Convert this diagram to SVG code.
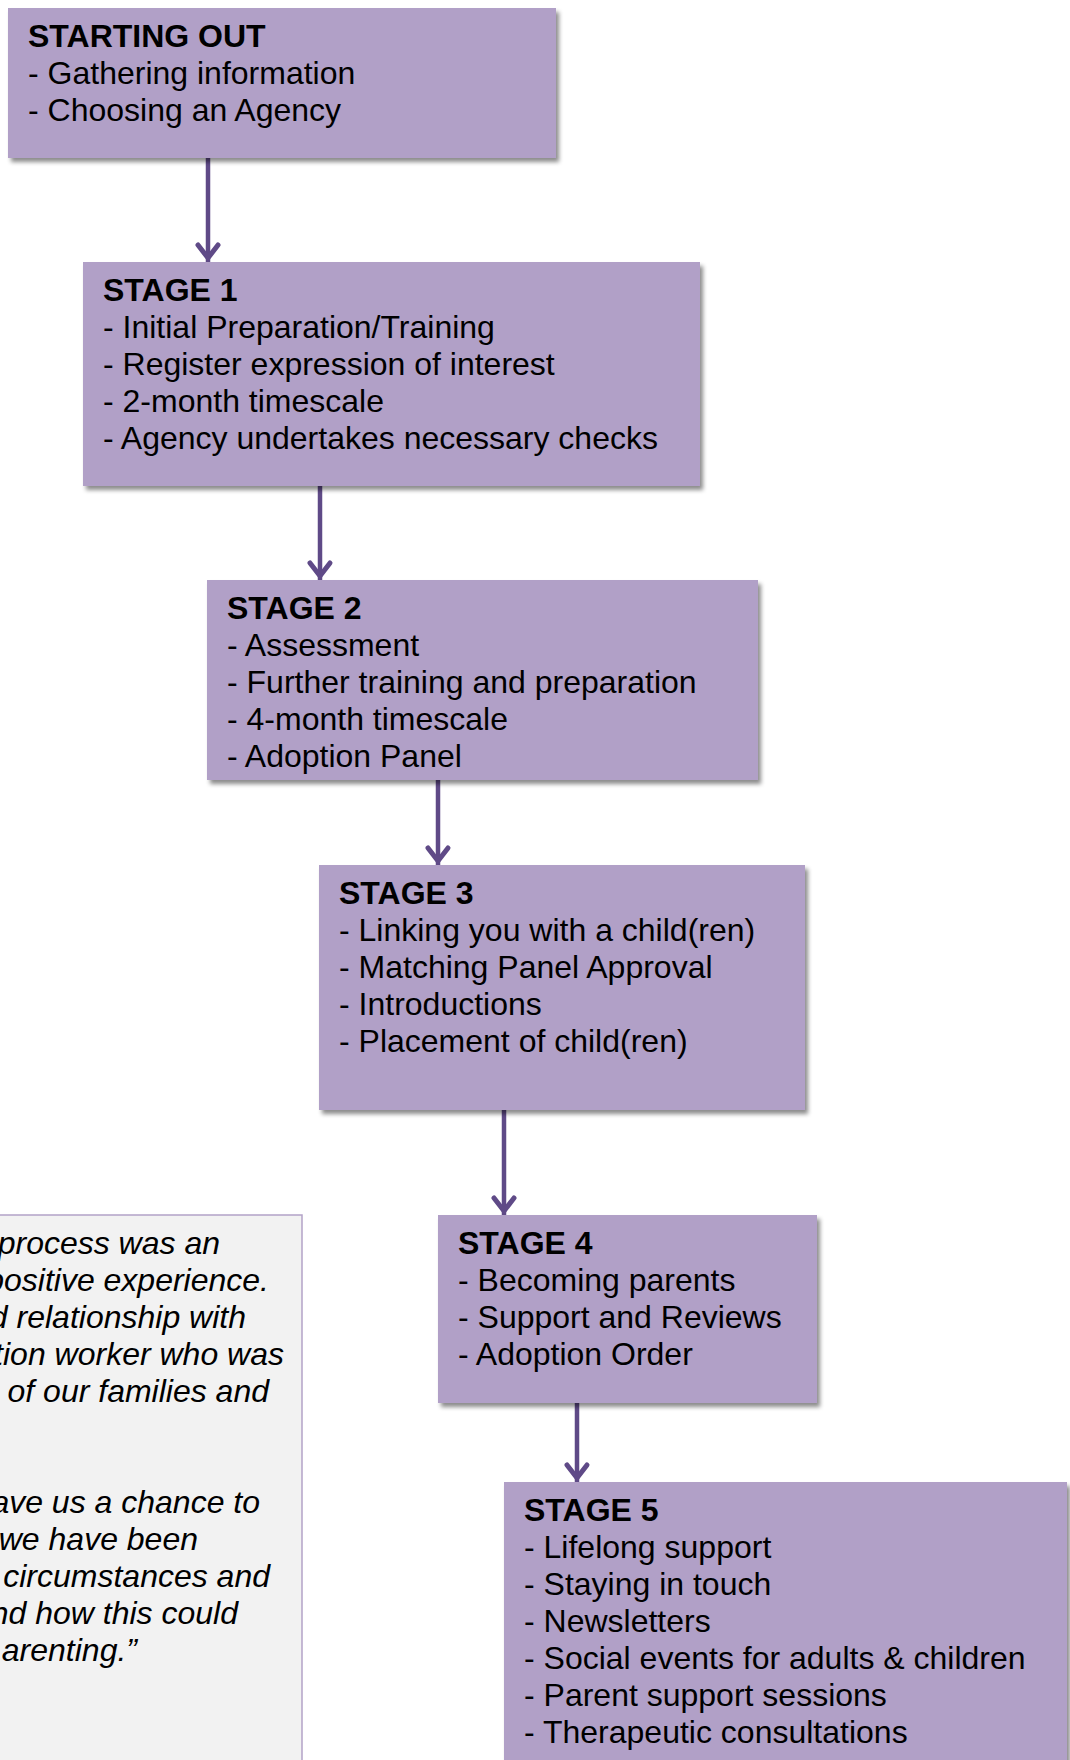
<svg xmlns="http://www.w3.org/2000/svg" width="1070" height="1760" viewBox="0 0 1070 1760">
<style>
.box{fill:#b1a0c7;filter:url(#sh)}
.t{font-family:"Liberation Sans",Arial,sans-serif;font-size:32px;fill:#000}
.h{font-weight:bold}
.q{font-family:"Liberation Sans",Arial,sans-serif;font-size:32px;font-style:italic;fill:#000;text-anchor:end}
.c{stroke:#5f4a87;stroke-width:4.5;fill:none;marker-end:url(#ah)}
</style>
<defs>
<filter id="sh" x="-5%" y="-5%" width="115%" height="120%">
<feDropShadow dx="3" dy="4" stdDeviation="2.2" flood-color="#000" flood-opacity="0.45"/>
</filter>
<marker id="ah" markerUnits="userSpaceOnUse" viewBox="-25 -15 30 30" markerWidth="30" markerHeight="30" refX="0" refY="0" orient="auto">
<path d="M-17,-10 L-4,0 L-17,10" fill="none" stroke="#5f4a87" stroke-width="5" stroke-linecap="round"/>
</marker>
</defs>
<rect width="1070" height="1760" fill="#fff"/>

<g id="quote">
<rect x="-10" y="1215" width="312" height="560" fill="#f2f2f2" stroke="#b3a2c7" stroke-width="1.5"/>
<text class="q" x="220" y="1254">process was an</text>
<text class="q" x="269" y="1291">positive experience.</text>
<text class="q" x="246" y="1328">d relationship with</text>
<text class="q" x="284" y="1365">tion worker who was</text>
<text class="q" x="269" y="1402">of our families and</text>
<text class="q" x="260" y="1513">ave us a chance to</text>
<text class="q" x="198" y="1550">we have been</text>
<text class="q" x="270" y="1587">circumstances and</text>
<text class="q" x="238" y="1624">nd how this could</text>
<text class="q" x="137" y="1661">arenting.”</text>
</g>

<g id="connectors">
<path class="c" d="M208,158 V262"/>
<path class="c" d="M320,486 V580"/>
<path class="c" d="M438,780 V865"/>
<path class="c" d="M504,1110 V1215"/>
<path class="c" d="M577,1403 V1482"/>
</g>

<g id="starting-out">
<rect class="box" x="8" y="8" width="548" height="150"/>
<text class="t h" x="28" y="47">STARTING OUT</text>
<text class="t" x="28" y="84">- Gathering information</text>
<text class="t" x="28" y="121">- Choosing an Agency</text>
</g>

<g id="stage1">
<rect class="box" x="83" y="262" width="617" height="224"/>
<text class="t h" x="103" y="301">STAGE 1</text>
<text class="t" x="103" y="338">- Initial Preparation/Training</text>
<text class="t" x="103" y="375">- Register expression of interest</text>
<text class="t" x="103" y="412">- 2-month timescale</text>
<text class="t" x="103" y="449">- Agency undertakes necessary checks</text>
</g>

<g id="stage2">
<rect class="box" x="207" y="580" width="551" height="200"/>
<text class="t h" x="227" y="619">STAGE 2</text>
<text class="t" x="227" y="656">- Assessment</text>
<text class="t" x="227" y="693">- Further training and preparation</text>
<text class="t" x="227" y="730">- 4-month timescale</text>
<text class="t" x="227" y="767">- Adoption Panel</text>
</g>

<g id="stage3">
<rect class="box" x="319" y="865" width="486" height="245"/>
<text class="t h" x="339" y="904">STAGE 3</text>
<text class="t" x="339" y="941">- Linking you with a child(ren)</text>
<text class="t" x="339" y="978">- Matching Panel Approval</text>
<text class="t" x="339" y="1015">- Introductions</text>
<text class="t" x="339" y="1052">- Placement of child(ren)</text>
</g>

<g id="stage4">
<rect class="box" x="438" y="1215" width="379" height="188"/>
<text class="t h" x="458" y="1254">STAGE 4</text>
<text class="t" x="458" y="1291">- Becoming parents</text>
<text class="t" x="458" y="1328">- Support and Reviews</text>
<text class="t" x="458" y="1365">- Adoption Order</text>
</g>

<g id="stage5">
<rect class="box" x="504" y="1482" width="563" height="300"/>
<text class="t h" x="524" y="1521">STAGE 5</text>
<text class="t" x="524" y="1558">- Lifelong support</text>
<text class="t" x="524" y="1595">- Staying in touch</text>
<text class="t" x="524" y="1632">- Newsletters</text>
<text class="t" x="524" y="1669">- Social events for adults &amp; children</text>
<text class="t" x="524" y="1706">- Parent support sessions</text>
<text class="t" x="524" y="1743">- Therapeutic consultations</text>
</g>
</svg>
